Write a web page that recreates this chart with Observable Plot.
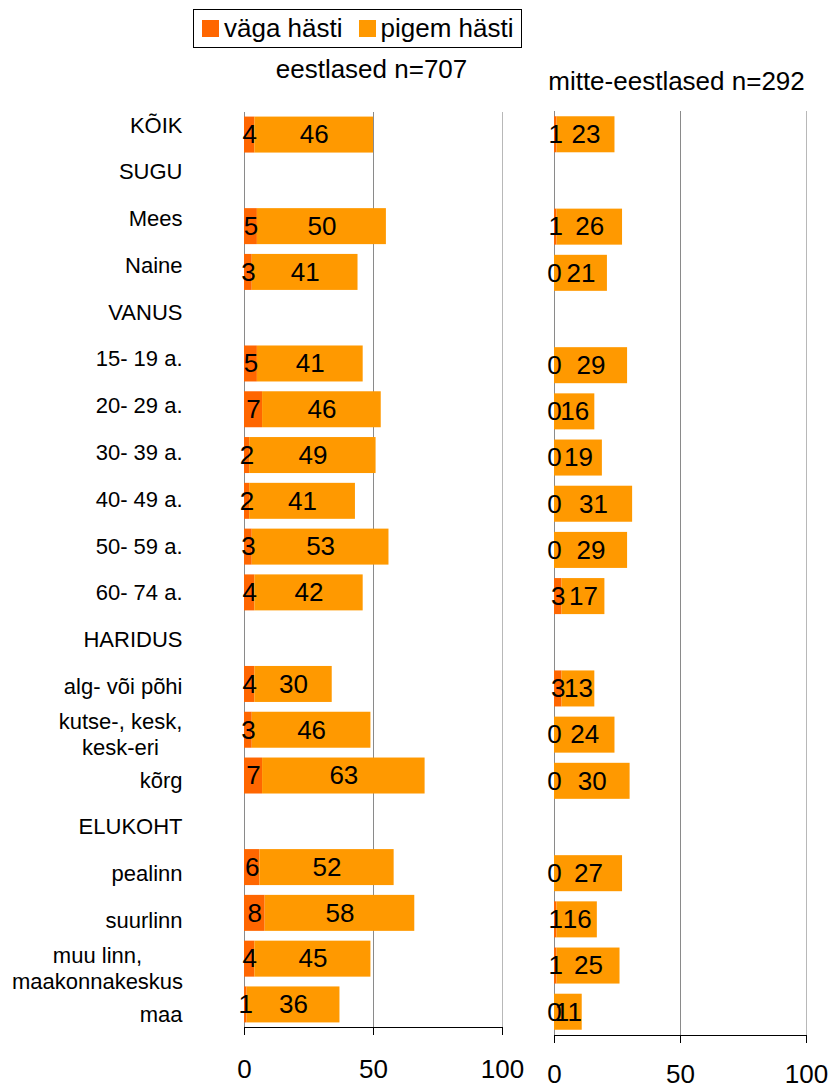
<!DOCTYPE html>
<html>
<head>
<meta charset="utf-8">
<script src="https://cdn.jsdelivr.net/npm/d3@7"></script>
<script src="https://cdn.jsdelivr.net/npm/@observablehq/plot@0.6"></script>
<style>
  html, body { margin: 0; padding: 0; background: #fff; overflow: hidden; }
  body { width: 830px; height: 1088px; font-family: "Liberation Sans", Arial, sans-serif; }
  #legendRow { position: relative; height: 52px; }
  #legend { position: absolute; left: 193px; top: 9px; width: 327px; height: 37px; border: 1px solid #000;
            display: flex; align-items: center; font-size: 26px; color: #000; }
  #legend .sw { width: 17px; height: 17px; display: inline-block; margin-right: 5px; }
  #legend .item { display: flex; align-items: center; }
  #charts { display: flex; position: relative; }
  #charts svg { display: block; overflow: visible; flex: none; }
  #charts svg.labels { position: absolute; left: 0; top: 0; }
</style>
</head>
<body>
<div id="legendRow"><div id="legend"></div></div>
<div id="charts"></div>
<script>
const categories = ["KÕIK","SUGU","Mees","Naine","VANUS","15- 19 a.","20- 29 a.","30- 39 a.","40- 49 a.","50- 59 a.","60- 74 a.","HARIDUS","alg- või põhi","kutse-, kesk,\nkesk-eri","kõrg","ELUKOHT","pealinn","suurlinn","muu linn,\nmaakonnakeskus","maa"];
const estVeryWell      = [4,null,5,3,null,5,7,2,2,3,4,null,4,3,7,null,6,8,4,1];
const estRatherWell    = [46,null,50,41,null,41,46,49,41,53,42,null,30,46,63,null,52,58,45,36];
const nonEstVeryWell   = [1,null,1,0,null,0,0,0,0,0,3,null,3,0,0,null,0,1,1,0];
const nonEstRatherWell = [23,null,26,21,null,29,16,19,31,29,17,null,13,24,30,null,27,16,25,11];
const seriesNames = ["väga hästi","pigem hästi"];
const seriesColors = ["#ff6600","#ff9900"];
const panelTitles = ["eestlased n=707","mitte-eestlased n=292"];
const xTicks = [0,50,100];

// legend
const legend = document.getElementById("legend");
seriesNames.forEach((s, i) => {
  const item = document.createElement("span");
  item.className = "item";
  item.style.marginLeft = i === 0 ? "8px" : "16px";
  const sw = document.createElement("span");
  sw.className = "sw";
  sw.style.background = seriesColors[i];
  item.appendChild(sw);
  item.appendChild(document.createTextNode(s));
  legend.appendChild(item);
});

function rowsFor(dark, light) {
  const out = [];
  categories.forEach((c, i) => {
    if (dark[i] == null) return;
    out.push({cat: c, series: seriesNames[0], x1: 0, x2: dark[i], value: dark[i]});
    out.push({cat: c, series: seriesNames[1], x1: dark[i], x2: dark[i] + light[i], value: light[i]});
  });
  return out;
}

const font = "'Liberation Sans', Arial, Helvetica, sans-serif";
const baseStyle = {fontFamily: font, fontSize: "26px", color: "#000", background: "transparent", overflow: "visible"};

function panel({dark, light, title, width, marginLeft, marginRight, marginTop, marginBottom, titleDy, titleDx, tickPadding, paddingInner, paddingOuter}) {
  const rows = rowsFor(dark, light);
  return Plot.plot({
    width, height: 1036,
    marginLeft, marginRight, marginTop, marginBottom,
    style: baseStyle,
    x: {domain: [0, 100], axis: null},
    y: {domain: categories, paddingInner, paddingOuter, round: false, axis: null},
    color: {domain: seriesNames, range: seriesColors},
    marks: [
      Plot.ruleX(xTicks, {stroke: d => d === 100 ? "#b8b8b8" : "#8a8a8a", strokeWidth: 1}),
      Plot.barX(rows, {x1: "x1", x2: "x2", y: "cat", fill: "series"}),
      Plot.text(rows, {x: d => (d.x1 + d.x2) / 2, y: "cat", text: d => String(d.value), fontSize: 26, fill: "#000"}),
      Plot.frame({anchor: "bottom", stroke: "#000", strokeWidth: 1}),
      Plot.axisX({ticks: xTicks, tickSize: 8, tickPadding, fontSize: 26, label: null, stroke: "#000", strokeWidth: 1}),
      Plot.text([title], {frameAnchor: "top", lineAnchor: "middle", dy: titleDy, dx: titleDx, fontSize: 26, fill: "#000"})
    ]
  });
}

// category label column (its own band scale, as in the original where labels are spaced slightly differently)
function labelColumn() {
  const singleLine = categories.filter(c => !c.includes("\n"));
  const multiLine = categories.filter(c => c.includes("\n"));
  const multiDx = [-124, -147];
  const marks = [
    Plot.text(singleLine, {y: d => d, text: d => d, frameAnchor: "right", textAnchor: "end", lineAnchor: "middle", dx: -62, fontSize: 22, fill: "#000"})
  ];
  multiLine.forEach((c, i) => {
    marks.push(Plot.text([c], {y: d => d, text: d => d, frameAnchor: "right", textAnchor: "middle", lineAnchor: "middle", dx: multiDx[i], fontSize: 22, lineHeight: 1.2, fill: "#000"}));
  });
  const svg = Plot.plot({
    width: 244, height: 1036,
    marginLeft: 0, marginRight: 0, marginTop: 49.6, marginBottom: 50.6,
    style: baseStyle,
    x: {axis: null},
    y: {type: "band", domain: categories, padding: 0, round: false, axis: null},
    marks
  });
  svg.classList.add("labels");
  return svg;
}

const charts = document.getElementById("charts");
charts.appendChild(panel({dark: estVeryWell, light: estRatherWell, title: panelTitles[0], width: 520,
  marginLeft: 244, marginRight: 18, marginTop: 60, marginBottom: 61, titleDy: -43, titleDx: -2, tickPadding: 24,
  paddingInner: 0.214, paddingOuter: 0.1}));
charts.appendChild(panel({dark: nonEstVeryWell, light: nonEstRatherWell, title: panelTitles[1], width: 310,
  marginLeft: 34, marginRight: 24, marginTop: 59, marginBottom: 53, titleDy: -30, titleDx: -4, tickPadding: 21,
  paddingInner: 0.22, paddingOuter: 0.114}));
charts.appendChild(labelColumn());
</script>
</body>
</html>
